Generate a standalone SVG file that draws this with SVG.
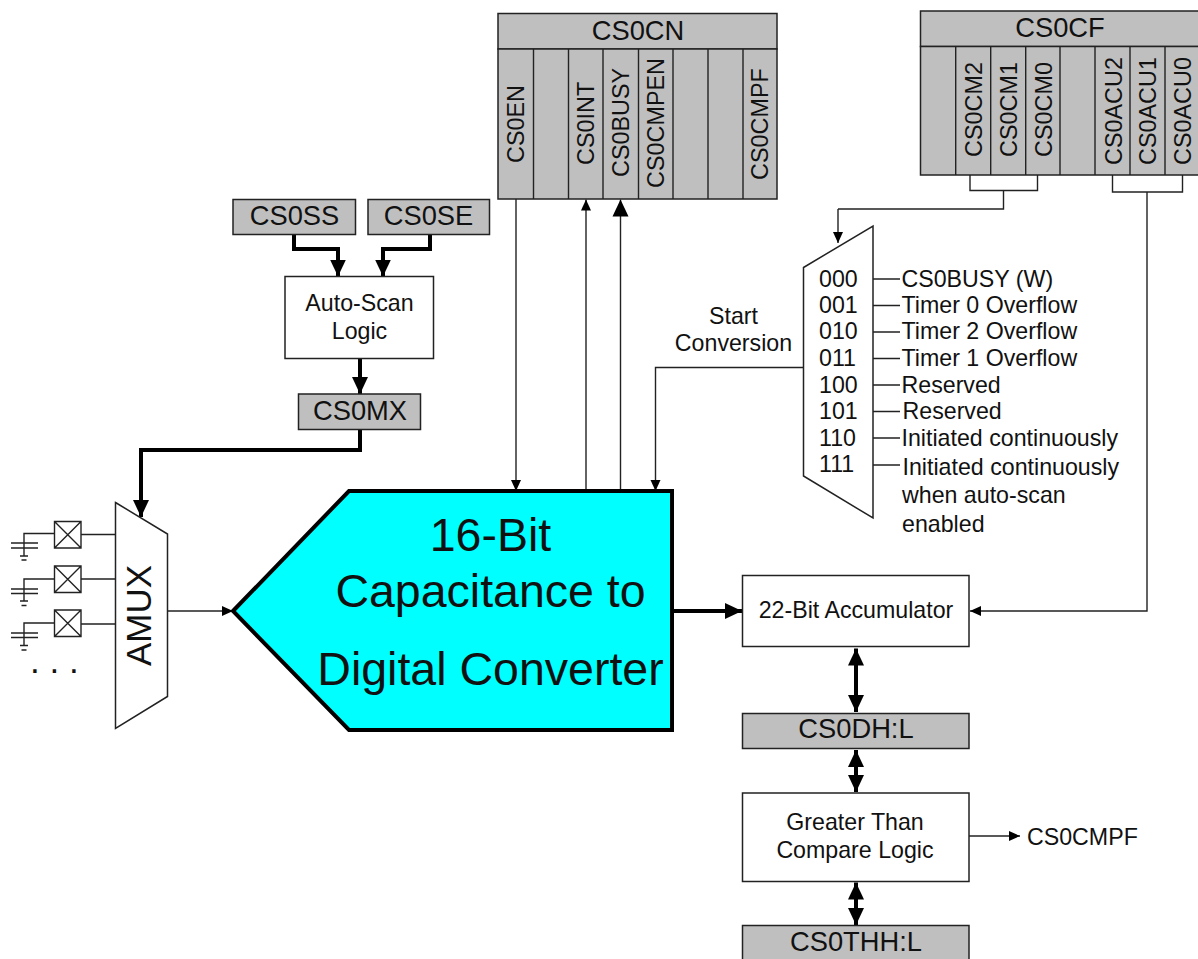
<svg xmlns="http://www.w3.org/2000/svg" width="1198" height="959" viewBox="0 0 1198 959">
<style>
text{font-family:"Liberation Sans",Arial,sans-serif;fill:#111}
.t20{font-size:23.2px}.t26{font-size:27.3px}.t23{font-size:23.4px}.t40{font-size:46.5px}.t35{font-size:35px}
.m{text-anchor:middle}
.g{fill:#bfbfbf;stroke:#222;stroke-width:1.5}
.w{fill:#fff;stroke:#222;stroke-width:1.5}
.l{fill:none;stroke:#222;stroke-width:1.4}
.h{fill:none;stroke:#000;stroke-width:4}
</style>
<defs>
<marker id="a" markerUnits="userSpaceOnUse" markerWidth="12" markerHeight="12" refX="11" refY="6" orient="auto-start-reverse"><path d="M0 1L11 6L0 11Z" fill="#000"/></marker>
<marker id="b" markerUnits="userSpaceOnUse" markerWidth="18" markerHeight="18" refX="17" refY="9" orient="auto-start-reverse"><path d="M0 1L17 9L0 17Z" fill="#000"/></marker>
</defs>
<g id="connectors">
<path class="l" d="M516 199V491" marker-end="url(#a)"/>
<path class="l" d="M586 491V199.500" marker-end="url(#a)"/>
<path class="l" d="M620.500 491V199.500" marker-end="url(#b)"/>
<path class="l" d="M970 175V190.500H1037.500V175M1003.500 190.500V209H838"/>
<path class="l" d="M838 209V243" marker-end="url(#a)"/>
<path class="l" d="M1112.500 175V192H1182.500V175"/>
<path class="l" d="M1147 192V611H970" marker-end="url(#a)"/>
<path class="l" d="M803.500 367.500H655.500V491" marker-end="url(#a)"/>
<path class="l" d="M873 279H900M873 305.500H900M873 332H900M873 358.500H900M873 385H900M873 411.500H900M873 438H900M873 465H900"/>
<path class="h" d="M294 234.500V249H338V276.500" marker-end="url(#b)"/>
<path class="h" d="M430 234.500V249H383V276.500" marker-end="url(#b)"/>
<path class="h" d="M360 358.500V394" marker-end="url(#b)"/>
<path class="h" d="M360 429.500V450H141V517" marker-end="url(#b)"/>
<path class="l" d="M167.500 611H233" marker-end="url(#a)"/>
<path class="h" d="M672 611H742" marker-end="url(#b)"/>
<path class="h" d="M856 648.500V712" marker-start="url(#b)" marker-end="url(#b)"/>
<path class="h" d="M856 750V792" marker-start="url(#b)" marker-end="url(#b)"/>
<path class="h" d="M856 882.500V925" marker-start="url(#b)" marker-end="url(#b)"/>
<path class="l" d="M969 836H1020" marker-end="url(#a)"/>
<path class="l" d="M81 534.500H115.500M81 579H115.500M81 624H115.500"/>
</g>
<g id="cs0cn">
<rect class="g" x="498" y="13.500" width="279" height="35.500"/>
<rect class="g" x="498" y="49" width="279" height="150"/>
<path class="l" d="M533.500 49V199M568.500 49V199M603 49V199M638.500 49V199M673 49V199M708 49V199M743 49V199"/>
<text class="t26 m" x="638" y="39.500">CS0CN</text>
<text class="t23" transform="translate(524 163) rotate(-90)">CS0EN</text>
<text class="t23" transform="translate(594 165) rotate(-90)">CS0INT</text>
<text class="t23" transform="translate(629 177) rotate(-90)">CS0BUSY</text>
<text class="t23" transform="translate(664 188) rotate(-90)">CS0CMPEN</text>
<text class="t23" transform="translate(768 180) rotate(-90)">CS0CMPF</text>
</g>
<g id="cs0cf">
<rect class="g" x="920.500" y="11" width="290" height="35.500"/>
<rect class="g" x="920.500" y="46.500" width="290" height="128.500"/>
<path class="l" d="M955.700 46.500V175M990.700 46.500V175M1025.700 46.500V175M1060 46.500V175M1095 46.500V175M1130 46.500V175M1165 46.500V175"/>
<text class="t26 m" x="1060" y="37">CS0CF</text>
<text class="t23" transform="translate(981.500 157) rotate(-90)">CS0CM2</text>
<text class="t23" transform="translate(1016.500 157) rotate(-90)">CS0CM1</text>
<text class="t23" transform="translate(1051.500 157) rotate(-90)">CS0CM0</text>
<text class="t23" transform="translate(1121.500 165) rotate(-90)">CS0ACU2</text>
<text class="t23" transform="translate(1156 165) rotate(-90)">CS0ACU1</text>
<text class="t23" transform="translate(1191 165) rotate(-90)">CS0ACU0</text>
</g>
<g id="cs0ss"><rect class="g" x="233" y="199.500" width="122.500" height="35"/><text class="t26 m" x="294.500" y="224.500">CS0SS</text></g>
<g id="cs0se"><rect class="g" x="368" y="199.500" width="121.500" height="35"/><text class="t26 m" x="428.500" y="224.500">CS0SE</text></g>
<g id="autoscan"><rect class="w" x="285" y="276.500" width="148.500" height="82"/><text class="t20 m" x="359.500" y="311">Auto-Scan</text><text class="t20 m" x="359.500" y="339">Logic</text></g>
<g id="cs0mx"><rect class="g" x="298.500" y="394" width="122" height="35.500"/><text class="t26 m" x="360" y="420">CS0MX</text></g>
<g id="switches" class="l">
<path d="M54.500 521.500h26.500v26.500h-26.500zM54.500 521.500l26.500 26.500M81 521.500l-26.500 26.500M54 533.500H24V555.500M11 543H38M11 548H38M20 556H28M21.500 560H26.500"/>
<path d="M54.500 566h26.500v26.500h-26.500zM54.500 566l26.500 26.500M81 566l-26.500 26.500M54 579H24V601M11 589H38M11 593.500H38M20 601H28M21.500 605.500H26.500"/>
<path d="M54.500 610h26.500v26.500h-26.500zM54.500 610l26.500 26.500M81 610l-26.500 26.500M54 623H24V645M11 633H38M11 637.500H38M20 645.500H28M21.500 650H26.500"/>
</g>
<text class="t35" x="30" y="673">. . .</text>
<g id="amux"><polygon class="w" points="115.500,502.500 167.500,534 167.500,696.500 115.500,728.500"/><text class="t35 m" transform="translate(151 615.500) rotate(-90)">AMUX</text></g>
<g id="converter"><polygon points="233,611 349,491 672,491 672,730 349,730" fill="#00ffff" stroke="#000" stroke-width="4"/>
<text class="t40 m" x="490.500" y="550.500">16-Bit</text><text class="t40 m" x="490.500" y="607">Capacitance to</text><text class="t40 m" x="490.500" y="685">Digital Converter</text></g>
<g id="startconv"><text class="t20 m" x="733.500" y="324">Start</text><text class="t20 m" x="733.500" y="351">Conversion</text></g>
<g id="mux"><polygon class="w" points="803.500,267.500 873,226 873,518 803.500,476"/>
<text class="t20" x="819" y="286.500">000</text><text class="t20" x="819" y="312.500">001</text><text class="t20" x="819" y="339">010</text><text class="t20" x="819" y="365.500">011</text><text class="t20" x="819" y="392.500">100</text><text class="t20" x="819" y="419">101</text><text class="t20" x="819" y="445.500">110</text><text class="t20" x="819" y="471.500">111</text>
</g>
<g id="muxlabels">
<text class="t20" x="901.500" y="286.500">CS0BUSY (W)</text><text class="t20" x="901.500" y="312.500">Timer 0 Overflow</text><text class="t20" x="901.500" y="339">Timer 2 Overflow</text><text class="t20" x="901.500" y="365.500">Timer 1 Overflow</text><text class="t20" x="901.500" y="392.500">Reserved</text><text class="t20" x="902.500" y="419">Reserved</text><text class="t20" x="901.500" y="445.500">Initiated continuously</text><text class="t20" x="902.500" y="475">Initiated continuously</text><text class="t20" x="902" y="502.500">when auto-scan</text><text class="t20" x="902" y="531.500">enabled</text>
</g>
<g id="accumulator"><rect class="w" x="742.500" y="575.500" width="226.500" height="71"/><text class="t20 m" x="856" y="618">22-Bit Accumulator</text></g>
<g id="cs0dhl"><rect class="g" x="742.500" y="713.500" width="226.500" height="35"/><text class="t26 m" x="856" y="738">CS0DH:L</text></g>
<g id="compare"><rect class="w" x="742.500" y="793" width="226.500" height="88.500"/><text class="t20 m" x="855" y="829.500">Greater Than</text><text class="t20 m" x="855" y="857.500">Compare Logic</text></g>
<g id="cs0thhl"><rect class="g" x="742.500" y="925.500" width="226.500" height="40"/><text class="t26 m" x="856" y="951">CS0THH:L</text></g>
<text class="t20" x="1027" y="844.500">CS0CMPF</text>
</svg>
